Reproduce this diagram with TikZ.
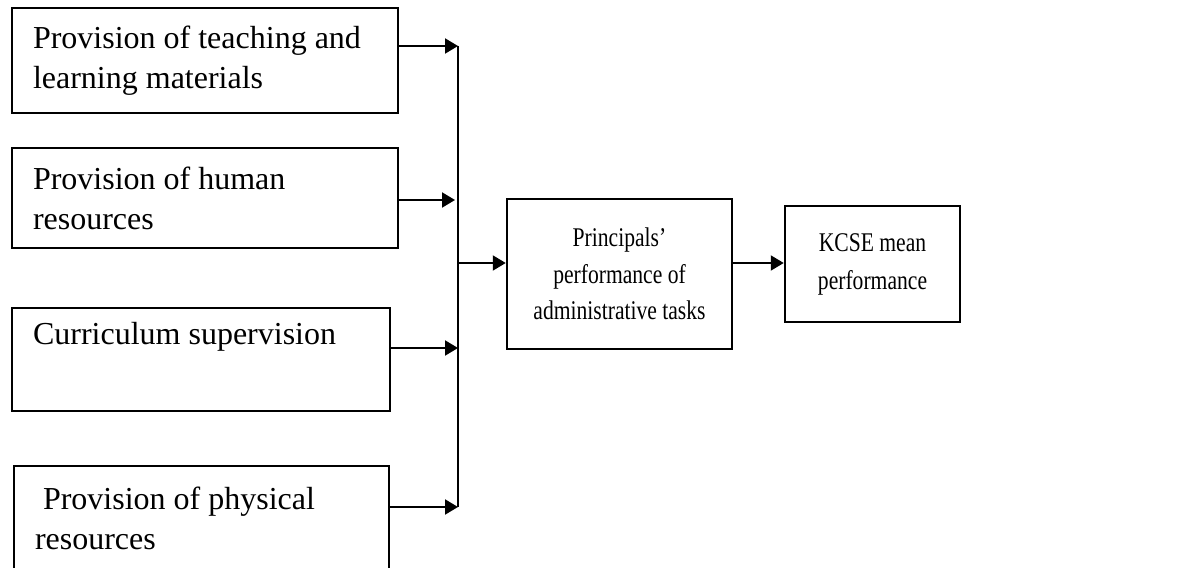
\documentclass[tikz,border=0pt]{standalone}
\usepackage{fontspec}
\setmainfont{Liberation Serif}
\newfontfamily\condfont[FakeStretch=0.80]{Liberation Serif}
\usetikzlibrary{arrows.meta}
\begin{document}
\begin{tikzpicture}[x=0.5pt,y=-0.5pt,
  inbox/.style={draw, line width=1.25pt, inner xsep=10.5pt, inner ysep=0pt,
    align=flush left, font=\fontsize{16}{20}\selectfont},
  midbox/.style={draw, line width=1.25pt, inner sep=0pt, align=center},
  arr/.style={line width=1pt, -{Triangle[length=6.5pt,width=7.5pt]}},
  bus/.style={line width=1pt}]
\useasboundingbox (0,0) rectangle (1202,567);
\begin{scope}
\clip (0,0) rectangle (1202,567);
\node[inbox, minimum width=193pt, minimum height=52.5pt, text width=172pt] (b1) at (205,60.5)
  {Provision of teaching and\\learning materials};
\node[inbox, minimum width=193pt, minimum height=50pt, text width=172pt] (b2) at (205,198)
  {Provision of human\\resources};
\node[inbox, minimum width=189pt, minimum height=51.5pt, text width=168pt] (b3) at (201,359.5)
  {Curriculum supervision\\\strut};
\node[inbox, minimum width=187.5pt, minimum height=52pt, text width=166.5pt] (b4) at (201.5,518)
  {\ Provision of physical\\resources};
\node[midbox, minimum width=112.5pt, minimum height=75pt,
  font=\condfont\fontsize{13.5}{18.25}\selectfont] (b5) at (619.5,274)
  {Principals’\\performance of\\administrative tasks};
\node[midbox, minimum width=87.5pt, minimum height=58pt,
  font=\condfont\fontsize{13.5}{19}\selectfont] (b6) at (872.5,264)
  {\raisebox{1.5pt}{KCSE mean}\\\raisebox{1.5pt}{performance}};

\coordinate (j1) at (458,46);
\coordinate (j2) at (458,200);
\coordinate (j3) at (458,348);
\coordinate (j4) at (458,507);
\coordinate (jm) at (458,263);

\draw[bus] (j1) -- (j4);
\draw[arr] (b1.east |- j1) -- (j1);
\draw[arr, shorten >=1.5pt] (b2.east |- j2) -- (j2);
\draw[arr] (b3.east |- j3) -- (j3);
\draw[arr] (b4.east |- j4) -- (j4);
\draw[arr] (jm) -- (b5.west |- jm);
\draw[arr] (b5.east |- jm) -- (b6.west |- jm);
\end{scope}
\end{tikzpicture}
\end{document}
